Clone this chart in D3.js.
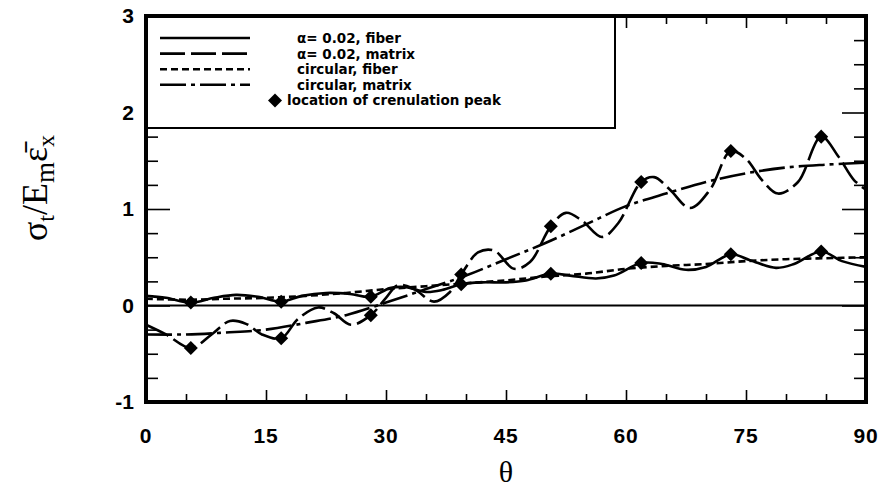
<!DOCTYPE html>
<html>
<head>
<meta charset="utf-8">
<script src="https://cdn.jsdelivr.net/npm/d3@7"></script>
<style>
  body { margin: 0; background: #fff; }
</style>
</head>
<body>
<div id="chart"></div>
<script>
// alpha = 0.02, fiber (solid)
var fiberAlphaTheta = [0, 2.5, 5.6, 8.5, 11.25, 14, 16.9, 19.5, 22.5, 25.5, 28.1, 30.5, 32.5, 35, 37, 39.4, 42, 45, 47.5, 50.6, 53, 56.25, 58.5, 61.9, 64.5, 67.5, 70, 73.1, 75.5, 78.75, 81, 84.4, 87, 90];
var fiberAlphaValue = [0.10, 0.08, 0.03, 0.08, 0.11, 0.09, 0.04, 0.10, 0.13, 0.12, 0.09, 0.18, 0.19, 0.14, 0.16, 0.22, 0.24, 0.24, 0.26, 0.33, 0.31, 0.28, 0.31, 0.44, 0.43, 0.37, 0.40, 0.53, 0.47, 0.39, 0.43, 0.56, 0.46, 0.40];

// alpha = 0.02, matrix (long dash)
var matrixAlphaTheta = [0, 2.5, 5.6, 8.2, 10.5, 12.5, 14.5, 16.9, 19, 21.5, 23.5, 25.6, 28.1, 30, 31.5, 33.5, 36, 38, 39.4, 41.5, 43.5, 46, 48, 50.6, 52.5, 54.5, 57, 59, 61.9, 63.5, 65.5, 68, 70.5, 73.1, 75, 77, 79, 81.5, 84.4, 86.5, 88.5, 90];
var matrixAlphaValue = [-0.20, -0.30, -0.44, -0.30, -0.16, -0.19, -0.30, -0.34, -0.14, -0.02, -0.08, -0.20, -0.10, 0.08, 0.21, 0.17, 0.04, 0.14, 0.32, 0.55, 0.57, 0.38, 0.45, 0.82, 0.96, 0.88, 0.71, 0.85, 1.28, 1.33, 1.20, 1.01, 1.20, 1.60, 1.52, 1.30, 1.16, 1.28, 1.75, 1.55, 1.30, 1.20];

// circular fiber / matrix
var circTheta = [0, 5, 10, 15, 20, 25, 30, 35, 40, 45, 50, 55, 60, 65, 70, 75, 80, 85, 90];
var circFiberValue = [0.07, 0.06, 0.07, 0.08, 0.10, 0.13, 0.17, 0.20, 0.23, 0.26, 0.30, 0.33, 0.38, 0.41, 0.43, 0.46, 0.48, 0.49, 0.50];
var circMatrixValue = [-0.30, -0.30, -0.28, -0.25, -0.18, -0.10, 0.03, 0.17, 0.31, 0.48, 0.65, 0.84, 1.03, 1.16, 1.28, 1.37, 1.43, 1.46, 1.48];

// crenulation peak locations
var peakTheta = [5.6, 16.9, 28.1, 39.4, 50.6, 61.9, 73.1, 84.4];
var peakFiber = [0.03, 0.04, 0.09, 0.22, 0.33, 0.44, 0.53, 0.56];
var peakMatrix = [-0.44, -0.34, -0.10, 0.32, 0.82, 1.28, 1.60, 1.75];

var xTicks = [0, 15, 30, 45, 60, 75, 90];
var yTicks = [-1, 0, 1, 2, 3];

var legendLabels = ["\u03b1= 0.02, fiber", "\u03b1= 0.02, matrix", "circular, fiber", "circular, matrix"];
var legendDash = ["none", "25,6", "7,4", "26,5,4,5"];

var drawChart = function () {
  var width = 882, height = 497;
  var m = { left: 146, right: 866, top: 16, bottom: 402 };

  var svg = d3.select("#chart").append("svg")
    .attr("width", width)
    .attr("height", height)
    .style("font-family", "'Liberation Sans', Arial, sans-serif");

  var x = d3.scaleLinear().domain([0, 90]).range([m.left, m.right]);
  var y = d3.scaleLinear().domain([-1, 3]).range([m.bottom, m.top]);

  // ticks pointing inwards on all four sides
  var g = svg.append("g");
  g.append("g")
    .attr("transform", "translate(0," + m.bottom + ")")
    .call(d3.axisTop(x).tickValues(d3.range(0, 91, 5)).tickFormat("")
      .tickSize(8).tickSizeOuter(0))
    .call(a => a.select(".domain").remove())
    .call(a => a.selectAll("line").attr("stroke-width", 1.6)
      .attr("y2", d => d % 15 === 0 ? -12 : -8));
  g.append("g")
    .attr("transform", "translate(0," + m.top + ")")
    .call(d3.axisBottom(x).tickValues(d3.range(0, 91, 5)).tickFormat("")
      .tickSize(8).tickSizeOuter(0))
    .call(a => a.select(".domain").remove())
    .call(a => a.selectAll("line").attr("stroke-width", 1.6)
      .attr("y2", d => d % 15 === 0 ? 12 : 8));
  g.append("g")
    .attr("transform", "translate(" + m.left + ",0)")
    .call(d3.axisRight(y).tickValues(d3.range(-1, 3.01, 0.25)).tickFormat("")
      .tickSize(12).tickSizeOuter(0))
    .call(a => a.select(".domain").remove())
    .call(a => a.selectAll("line").attr("stroke-width", 1.6)
      .attr("x2", d => Number.isInteger(d) ? 24 : 12));
  g.append("g")
    .attr("transform", "translate(" + m.right + ",0)")
    .call(d3.axisLeft(y).tickValues(d3.range(-1, 3.01, 0.25)).tickFormat("")
      .tickSize(12).tickSizeOuter(0))
    .call(a => a.select(".domain").remove())
    .call(a => a.selectAll("line").attr("stroke-width", 1.6)
      .attr("x2", d => Number.isInteger(d) ? -24 : -12));

  // tick labels
  svg.append("g").selectAll("text")
    .data(xTicks)
    .join("text")
    .attr("x", d => x(d))
    .attr("y", 443)
    .attr("text-anchor", "middle")
    .attr("font-size", 21)
    .attr("font-weight", "bold")
    .attr("letter-spacing", 0.8)
    .text(d => d);

  svg.append("g").selectAll("text")
    .data(yTicks)
    .join("text")
    .attr("x", 134)
    .attr("y", d => y(d) + 7)
    .attr("text-anchor", "end")
    .attr("font-size", 21)
    .attr("font-weight", "bold")
    .text(d => d);

  // zero line
  svg.append("line")
    .attr("x1", m.left).attr("x2", m.right)
    .attr("y1", y(0)).attr("y2", y(0))
    .attr("stroke", "#000").attr("stroke-width", 2);

  // curves
  var line = d3.line()
    .x(d => x(d[0]))
    .y(d => y(d[1]))
    .curve(d3.curveCatmullRom.alpha(0.5));

  var series = [
    { t: fiberAlphaTheta, v: fiberAlphaValue, dash: legendDash[0] },
    { t: matrixAlphaTheta, v: matrixAlphaValue, dash: legendDash[1] },
    { t: circTheta, v: circFiberValue, dash: legendDash[2] },
    { t: circTheta, v: circMatrixValue, dash: legendDash[3] }
  ];

  svg.append("g").selectAll("path")
    .data(series)
    .join("path")
    .attr("d", s => line(s.t.map((t, i) => [t, s.v[i]])))
    .attr("fill", "none")
    .attr("stroke", "#000")
    .attr("stroke-width", 2.6)
    .attr("stroke-dasharray", s => s.dash);

  // diamonds
  var diamond = d3.symbol().type(d3.symbolDiamond2).size(125);
  var peaks = peakTheta.map((t, i) => [t, peakFiber[i]])
    .concat(peakTheta.map((t, i) => [t, peakMatrix[i]]));
  svg.append("g").selectAll("path")
    .data(peaks)
    .join("path")
    .attr("d", diamond)
    .attr("transform", d => "translate(" + x(d[0]) + "," + y(d[1]) + ")")
    .attr("fill", "#000");

  // legend box
  var lg = svg.append("g");
  lg.append("rect")
    .attr("x", m.left).attr("y", m.top)
    .attr("width", 469).attr("height", 112)
    .attr("fill", "#fff")
    .attr("stroke", "#000")
    .attr("stroke-width", 2);

  var legendFont = "'DejaVu Sans', Arial, sans-serif";
  legendLabels.forEach(function (lab, i) {
    var ly = 38 + i * 15.6;
    lg.append("line")
      .attr("x1", 160).attr("x2", 250)
      .attr("y1", ly).attr("y2", ly)
      .attr("stroke", "#000")
      .attr("stroke-width", 2.6)
      .attr("stroke-dasharray", legendDash[i]);
    lg.append("text")
      .attr("x", 297).attr("y", ly + 5)
      .attr("font-family", legendFont)
      .attr("font-size", 13.5)
      .attr("font-weight", "bold")
      .text(lab);
  });
  lg.append("path")
    .attr("d", diamond)
    .attr("transform", "translate(275," + (38 + 4 * 15.6) + ")");
  lg.append("text")
    .attr("x", 287).attr("y", 38 + 4 * 15.6 + 5)
    .attr("font-family", legendFont)
    .attr("font-size", 13.5)
    .attr("font-weight", "bold")
    .text("location of crenulation peak");

  // frame
  svg.append("rect")
    .attr("x", m.left).attr("y", m.top)
    .attr("width", m.right - m.left).attr("height", m.bottom - m.top)
    .attr("fill", "none")
    .attr("stroke", "#000")
    .attr("stroke-width", 4);

  // axis titles
  svg.append("text")
    .attr("x", x(45)).attr("y", 482)
    .attr("text-anchor", "middle")
    .attr("font-family", "'Liberation Serif', 'Times New Roman', serif")
    .attr("font-size", 30)
    .text("\u03b8");

  var yl = svg.append("text")
    .attr("transform", "translate(47,188) rotate(-90)")
    .attr("text-anchor", "middle")
    .attr("font-family", "'Liberation Serif', 'Times New Roman', serif")
    .attr("font-size", 36);
  yl.append("tspan").text("\u03c3");
  yl.append("tspan").attr("font-size", 24).attr("dy", 7).text("t");
  yl.append("tspan").attr("dy", -7).text("/E");
  yl.append("tspan").attr("font-size", 27).attr("dy", 7).text("m");
  yl.append("tspan").attr("dy", -7).text("\u03b5\u0304");
  yl.append("tspan").attr("font-size", 24).attr("dy", 7).text("x");
};

window.onload = () => {
  drawChart();
};
</script>
</body>
</html>
